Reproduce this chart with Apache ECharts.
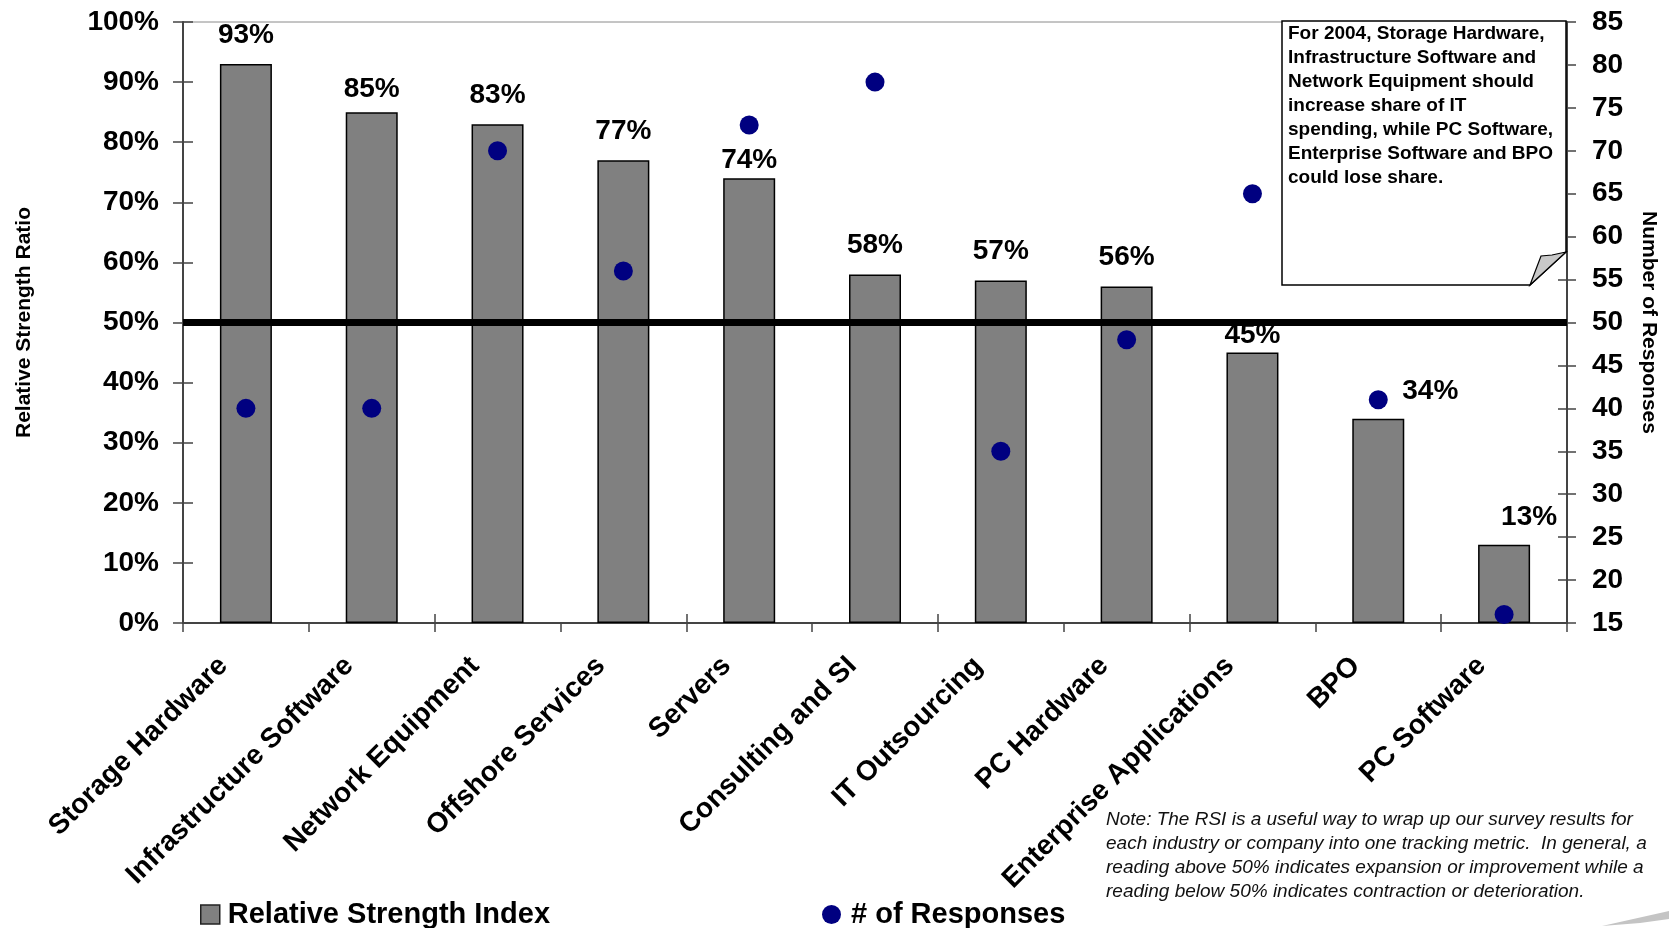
<!DOCTYPE html>
<html>
<head>
<meta charset="utf-8">
<title>Relative Strength Index by IT Segment</title>
<script src="https://cdn.jsdelivr.net/npm/echarts@6/dist/echarts.min.js"></script>
<style>
  html, body { margin: 0; padding: 0; background: #ffffff; }
  #chart { width: 1669px; height: 928px; }
</style>
</head>
<body>
<div id="chart"></div>
<script>
// Segments surveyed, in ranking order
const categories = [
  'Storage Hardware', 'Infrastructure Software', 'Network Equipment',
  'Offshore Services', 'Servers', 'Consulting and SI', 'IT Outsourcing',
  'PC Hardware', 'Enterprise Applications', 'BPO', 'PC Software'
];
// Relative Strength Index (percent)
const rsiPercent = [93, 85, 83, 77, 74, 58, 57, 56, 45, 34, 13];
// Number of survey responses per segment
const responses = [40, 40, 70, 56, 73, 78, 35, 48, 65, 41, 16];
// Axis ranges
const rsiAxis = { min: 0, max: 100, interval: 10 };
const responseAxis = { min: 15, max: 85, interval: 5 };
const neutralLevel = 50;

const FONT = "'Liberation Sans', Arial, sans-serif";
const chart = echarts.init(document.getElementById('chart'), null, { renderer: 'canvas' });

// A few value labels are nudged so they clear the response dots
const labelNudge = { 1: [0, 6], 4: [0, 11], 8: [0, 12], 9: [52, 2], 10: [25, 1] };

const barData = rsiPercent.map((v, i) => {
  const item = { value: v };
  if (labelNudge[i]) item.label = { offset: labelNudge[i] };
  return item;
});

const tickLabel = { fontFamily: FONT, fontWeight: 'bold', fontSize: 28, color: '#000' };
const legendText = { fontFamily: FONT, fontWeight: 'bold', fontSize: 29, color: '#000' };

const option = {
  animation: false,
  backgroundColor: '#ffffff',
  grid: {
    left: 183, right: 102, top: 22, bottom: 305,
    show: true, borderColor: '#8a8a8a', borderWidth: 1, backgroundColor: 'transparent'
  },
  legend: [
    {
      data: [{ name: 'Relative Strength Index', icon: 'rect', itemStyle: { color: '#808080', borderColor: '#222', borderWidth: 1.5 } }],
      left: 195, top: 895, itemWidth: 19, itemHeight: 19, itemGap: 5,
      textStyle: Object.assign({ padding: [0, 0, 0, 3] }, legendText)
    },
    {
      data: [{ name: '# of Responses', icon: 'circle' }],
      left: 817, top: 895, itemWidth: 19, itemHeight: 19, itemGap: 5,
      textStyle: Object.assign({ padding: [0, 0, 0, 5] }, legendText)
    }
  ],
  xAxis: [
    {
      type: 'category', data: categories, position: 'bottom',
      axisLine: { show: true, lineStyle: { color: '#444', width: 2 } },
      axisTick: { show: true, length: 9, alignWithLabel: false, lineStyle: { color: '#444', width: 1.5 } },
      axisLabel: Object.assign({ rotate: 45, margin: 16, interval: 0, padding: [0, 32, 0, 0] }, tickLabel),
      splitLine: { show: false }
    },
    {
      // inner half of the crossing category ticks
      type: 'category', data: categories, position: 'bottom',
      axisLine: { show: false },
      axisTick: { show: true, inside: true, length: 9, lineStyle: { color: '#444', width: 1.5 } },
      axisLabel: { show: false }, splitLine: { show: false }
    }
  ],
  yAxis: [
    {
      type: 'value', position: 'left',
      min: rsiAxis.min, max: rsiAxis.max, interval: rsiAxis.interval,
      name: 'Relative Strength Ratio', nameLocation: 'middle', nameRotate: 90, nameGap: 148,
      nameTextStyle: { fontFamily: FONT, fontWeight: 'bold', fontSize: 21, color: '#000' },
      axisLine: { show: true, lineStyle: { color: '#444', width: 2 } },
      axisTick: { show: true, length: 10, lineStyle: { color: '#444', width: 1.5 } },
      axisLabel: Object.assign({ formatter: '{value}%', margin: 24 }, tickLabel),
      splitLine: { show: false }
    },
    {
      type: 'value', position: 'right',
      min: responseAxis.min, max: responseAxis.max, interval: responseAxis.interval,
      name: 'Number of Responses', nameLocation: 'middle', nameRotate: -90, nameGap: 71,
      nameTextStyle: { fontFamily: FONT, fontWeight: 'bold', fontSize: 21, color: '#000' },
      axisLine: { show: true, lineStyle: { color: '#444', width: 2 } },
      axisTick: { show: true, length: 9, lineStyle: { color: '#444', width: 1.5 } },
      axisLabel: Object.assign({ margin: 25 }, tickLabel),
      splitLine: { show: false }
    },
    {
      // inner half of the crossing left ticks
      type: 'value', position: 'left',
      min: rsiAxis.min, max: rsiAxis.max, interval: rsiAxis.interval,
      axisLine: { show: false },
      axisTick: { show: true, inside: true, length: 10, lineStyle: { color: '#444', width: 1.5 } },
      axisLabel: { show: false }, splitLine: { show: false }
    },
    {
      // inner half of the crossing right ticks
      type: 'value', position: 'right',
      min: responseAxis.min, max: responseAxis.max, interval: responseAxis.interval,
      axisLine: { show: false },
      axisTick: { show: true, inside: true, length: 9, lineStyle: { color: '#444', width: 1.5 } },
      axisLabel: { show: false }, splitLine: { show: false }
    }
  ],
  series: [
    {
      name: 'Relative Strength Index',
      type: 'bar', xAxisIndex: 0, yAxisIndex: 0,
      data: barData,
      barWidth: 52,
      itemStyle: { color: '#808080', borderColor: '#000', borderWidth: 1.5 },
      label: {
        show: true, position: 'top', distance: 15,
        formatter: '{c}%',
        fontFamily: FONT, fontWeight: 'bold', fontSize: 28, color: '#000'
      },
      markLine: {
        silent: true, symbol: 'none',
        label: { show: false },
        lineStyle: { color: '#000', width: 7, type: 'solid' },
        data: [{ yAxis: neutralLevel }]
      },
      z: 2
    },
    {
      name: '# of Responses',
      type: 'scatter', xAxisIndex: 0, yAxisIndex: 1,
      data: responses,
      symbol: 'circle', symbolSize: 19,
      itemStyle: { color: '#000080', opacity: 1 },
      z: 5
    }
  ],
  graphic: [
    {
      // callout box with a folded corner
      type: 'polygon', z: 10,
      shape: { points: [[1282, 21], [1566, 21], [1566, 252], [1530, 285], [1282, 285]] },
      style: { fill: '#ffffff', stroke: '#000', lineWidth: 1.5 }
    },
    {
      type: 'polygon', z: 11,
      shape: { points: [[1530, 285], [1541, 256], [1552, 255], [1566, 252]] },
      style: { fill: '#c8c8c8', stroke: '#000', lineWidth: 1.2 }
    },
    {
      type: 'text', z: 12, left: 1288, top: 22,
      style: {
        text: 'For 2004, Storage Hardware,\nInfrastructure Software and\nNetwork Equipment should\nincrease share of IT\nspending, while PC Software,\nEnterprise Software and BPO\ncould lose share.',
        font: "bold 19px 'Liberation Sans', Arial, sans-serif",
        lineHeight: 24, fill: '#000'
      }
    },
    {
      type: 'text', z: 12, left: 1106, top: 808,
      style: {
        text: 'Note: The RSI is a useful way to wrap up our survey results for\neach industry or company into one tracking metric.  In general, a\nreading above 50% indicates expansion or improvement while a\nreading below 50% indicates contraction or deterioration.',
        font: "italic 19px 'Liberation Sans', Arial, sans-serif",
        lineHeight: 24, fill: '#111'
      }
    },
    {
      // small decorative swoosh in the lower corner
      type: 'polygon', z: 1,
      shape: { points: [[1602, 926], [1669, 911], [1669, 919], [1640, 923]] },
      style: { fill: '#c4c4c4' }
    }
  ]
};

chart.setOption(option);
</script>
</body>
</html>
